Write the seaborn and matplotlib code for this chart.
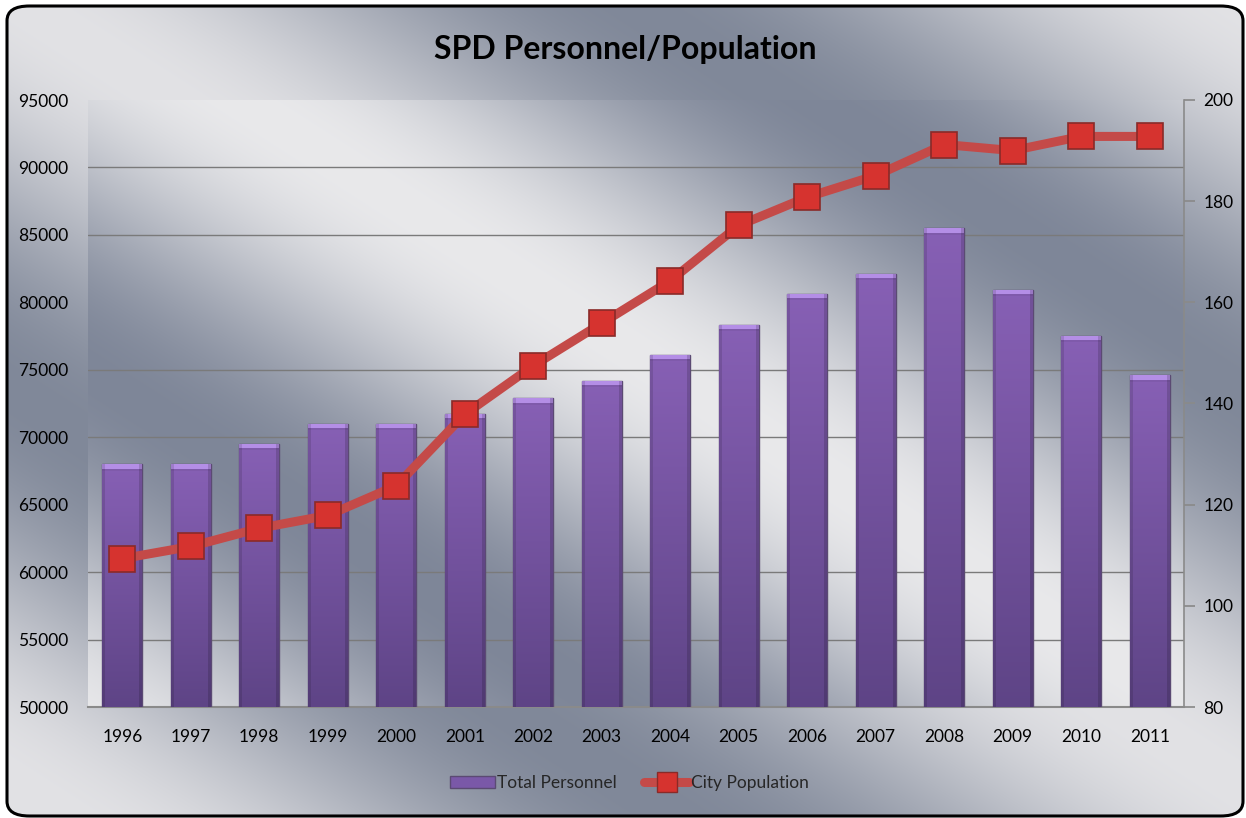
import numpy as np
import pandas as pd
import matplotlib
matplotlib.use("Agg")
import matplotlib.pyplot as plt
import seaborn as sns
from matplotlib.patches import FancyBboxPatch, Patch
from matplotlib.lines import Line2D

years = [str(y) for y in range(1996, 2012)]
personnel = [128, 128, 132, 136, 136, 138, 141, 144.5, 149.6, 155.6, 161.7, 165.7, 174.6, 162.5, 153.4, 145.6]
population = [61000, 61900, 63250, 64200, 66400, 71700, 75300, 78450, 81600, 85700, 87800, 89400, 91700, 91250, 92300, 92300]
pop_ticks = list(range(50000, 95001, 5000))
pers_ticks = list(range(80, 201, 20))

df = pd.DataFrame({"year": years, "personnel": personnel, "population": population})

sns.set_theme(style="white")
plt.rcParams["font.family"] = ["Lato", "DejaVu Sans"]

W, H = 1246, 818
fig = plt.figure(figsize=(W / 100, H / 100), dpi=100)
fig.patch.set_facecolor("white")


def metal(x0, y0, w, h, period, phase, lo, hi):
    # brushed-metal style diagonal bands, in figure pixel coords (y down)
    yy, xx = np.mgrid[y0:y0 + h, x0:x0 + w]
    s = 0.54 * xx - 0.84 * yy
    v = 0.5 + 0.5 * np.cos(2 * np.pi * (s - 46) / period + phase)
    lo = np.array(lo) / 255.0
    hi = np.array(hi) / 255.0
    return lo + (hi - lo) * v[..., None]


# outer chart area background
bg = fig.add_axes([0, 0, 1, 1], zorder=-10)
bg.set_axis_off()
outer = metal(0, 0, W, H, 660, 0.35, (128, 136, 153), (226, 226, 229))
im = bg.imshow(outer, extent=[0, 1, 0, 1], aspect="auto", zorder=0, interpolation="bilinear")
frame = FancyBboxPatch((7 / W, 2 / H), (W - 10) / W, (H - 8) / H,
                       boxstyle="round,pad=0,rounding_size=0.018", transform=bg.transAxes,
                       facecolor="none", edgecolor="black", linewidth=2.2, zorder=5)
bg.add_patch(frame)
im.set_clip_path(frame)
bg.set_xlim(0, 1)
bg.set_ylim(0, 1)

px0, py0, px1, py1 = 88, 100, 1184, 707
rect = [px0 / W, 1 - py1 / H, (px1 - px0) / W, (py1 - py0) / H]

# plot area background
pa = fig.add_axes(rect, zorder=-5)
pa.set_axis_off()
inner = metal(px0, py0, px1 - px0, py1 - py0, 620, 0.0, (126, 134, 152), (233, 233, 235))
pa.imshow(inner, extent=[0, 1, 0, 1], aspect="auto", interpolation="bilinear")
pa.set_xlim(0, 1)
pa.set_ylim(0, 1)

# bars: personnel on secondary (right) scale
ax_p = fig.add_axes(rect, zorder=1)
ax_p.patch.set_visible(False)
sns.barplot(data=df, x="year", y="personnel", color="#7A58A8", width=0.58,
            saturation=1, ax=ax_p, zorder=3)
ymin_p, ymax_p = 80, 200
ax_p.set_ylim(ymin_p, ymax_p)
ax_p.set_xlim(-0.5, len(years) - 0.5)
ax_p.yaxis.tick_right()
ax_p.set_yticks(pers_ticks)
grid_pos = [ymin_p + (t - 50000) / 45000 * (ymax_p - ymin_p) for t in pop_ticks]
ax_p.set_yticks(grid_pos, minor=True)
ax_p.yaxis.grid(True, which="minor", color="#7a7a7a", linewidth=1.0, zorder=1)
ax_p.set_axisbelow(True)
ax_p.tick_params(axis="y", which="major", direction="out", length=8, color="#8a8a8a",
                 labelsize=12.5, labelcolor="black", pad=6, right=True)
ax_p.tick_params(axis="y", which="minor", length=0)
ax_p.tick_params(axis="x", length=0, labelsize=12.5, labelcolor="black", pad=16)
ax_p.set_xlabel("")
ax_p.set_ylabel("")
for side in ["top", "left"]:
    ax_p.spines[side].set_visible(False)
ax_p.spines["right"].set_color("#8a8a8a")
ax_p.spines["bottom"].set_color("#8a8a8a")
ax_p.spines["right"].set_linewidth(1.2)
ax_p.spines["bottom"].set_linewidth(1.5)

# purple gradient fill for each bar (only the visible part above the axis floor)
top_c = np.array([135, 96, 181]) / 255.0
bot_c = np.array([94, 68, 134]) / 255.0
bev_c = np.array([180, 142, 230]) / 255.0
for p in ax_p.patches:
    x0, bw = p.get_x(), p.get_width()
    ytop = p.get_y() + p.get_height()
    ybot = max(p.get_y(), ymin_p)
    p.set_y(ybot)
    p.set_height(ytop - ybot)
    npx = max(int((ytop - ybot) / (ymax_p - ymin_p) * (py1 - py0)), 10)
    t = np.linspace(0, 1, npx)[:, None]
    img = top_c + (bot_c - top_c) * t[..., None]
    img = np.repeat(img, 40, axis=1)
    img[:5] = bev_c
    img[5:7] = img[5:7] * 0.95
    img[:, :3] *= 0.88
    img[:, -3:] *= 0.85
    gi = ax_p.imshow(img, extent=[x0, x0 + bw, ybot, ytop], aspect="auto", zorder=3.5,
                     interpolation="nearest")
    gi.set_clip_path(p)
    p.set_edgecolor("#5b4a73")
    p.set_linewidth(1.0)
ax_p.set_xlim(-0.5, len(years) - 0.5)
ax_p.set_ylim(ymin_p, ymax_p)

# line: population on primary (left) scale
ax = fig.add_axes(rect, zorder=2)
ax.patch.set_visible(False)
sns.pointplot(data=df, x="year", y="population", color="#C44A48", markers="s",
              markersize=19, linewidth=6.5, errorbar=None, ax=ax)
for ln in ax.lines:
    ln.set_markerfacecolor("#D6332F")
    ln.set_markeredgecolor("#8A2A28")
    ln.set_markeredgewidth(1.2)
ax.set_ylim(50000, 95000)
ax.set_xlim(-0.5, len(years) - 0.5)
ax.set_yticks(pop_ticks)
ax.set_xticks([])
ax.set_xlabel("")
ax.set_ylabel("")
ax.tick_params(axis="y", length=0, labelsize=12.5, labelcolor="black", pad=14)
for s in ax.spines.values():
    s.set_visible(False)

fig.text(0.502, 1 - 50 / H, "SPD Personnel/Population", ha="center", va="center",
         fontsize=23, fontweight="bold", color="black")

handles = [Patch(facecolor="#7A58A8", edgecolor="#5b4a73"),
           Line2D([], [], color="#C44A48", linewidth=6.5, marker="s", markersize=14,
                  markerfacecolor="#D6332F", markeredgecolor="#8A2A28")]
fig.legend(handles, ["Total Personnel", "City Population"], loc="center",
           bbox_to_anchor=(0.505, 1 - 783 / H), ncol=2, frameon=False, fontsize=12.5,
           handlelength=2.6, handletextpad=0.1, columnspacing=1.6)

fig.savefig("out.png", dpi=100)
